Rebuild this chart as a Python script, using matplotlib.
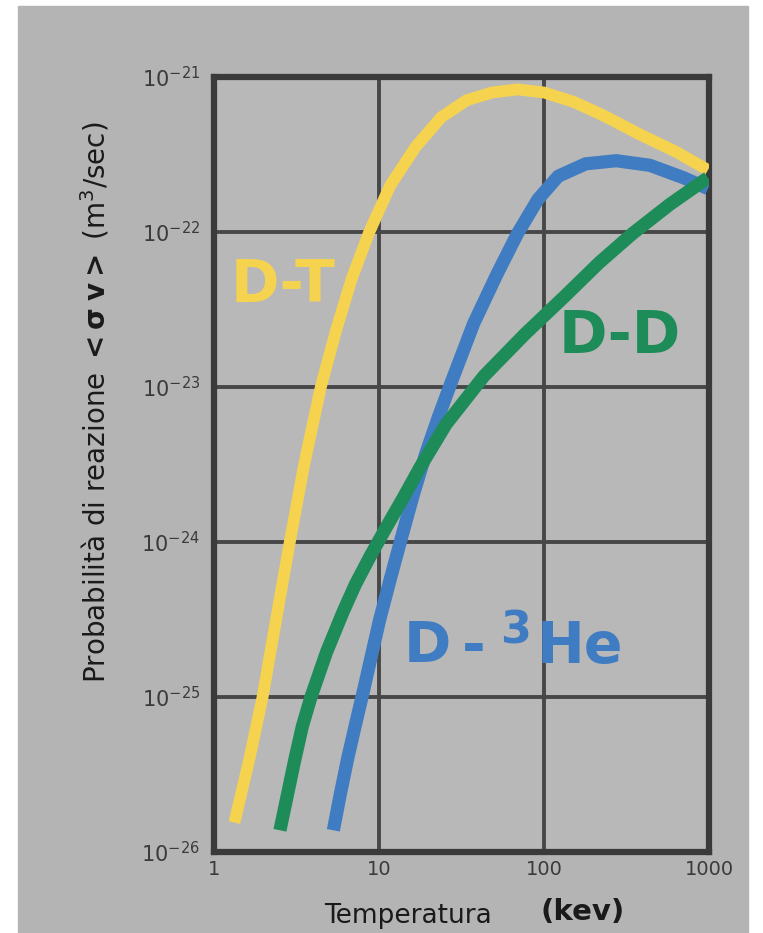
import numpy as np
import matplotlib.pyplot as plt
from matplotlib.patches import Rectangle

##### data (T in keV, log10 <sigma v> in m^3/s)
T_dt = [1.33, 1.63, 1.97, 2.38, 2.88, 3.52, 4.44, 5.51, 6.84, 8.73, 11.7,
        16.7, 23.8, 34.0, 48.4, 69.2, 100, 151, 231, 380, 625, 985]
sv_dt = [-25.81, -25.41, -25.00, -24.50, -24.00, -23.50, -23.00, -22.63,
         -22.30, -22.00, -21.70, -21.45, -21.26, -21.15, -21.10, -21.08,
         -21.10, -21.16, -21.25, -21.37, -21.48, -21.60]

T_dd = [2.51, 2.80, 3.08, 3.43, 3.87, 4.81, 6.06, 7.22, 8.86, 11.0, 14.1,
        17.7, 25.5, 43.2, 76.4, 135, 215, 344, 582, 985]
sv_dd = [-25.86, -25.62, -25.41, -25.19, -25.00, -24.71, -24.45, -24.27,
         -24.09, -23.91, -23.71, -23.52, -23.24, -22.93, -22.66, -22.41,
         -22.20, -22.01, -21.82, -21.65]

T_dhe = [5.29, 5.82, 6.48, 7.23, 8.05, 8.97, 10.1, 11.7, 13.7, 16.2, 19.2,
         22.8, 27.4, 37.5, 52.0, 69.1, 91.8, 122, 179, 274, 439, 701, 986]
sv_dhe = [-25.86, -25.63, -25.39, -25.17, -24.96, -24.74, -24.50, -24.24,
          -23.97, -23.69, -23.43, -23.20, -22.97, -22.59, -22.27, -22.01,
          -21.79, -21.64, -21.56, -21.54, -21.57, -21.65, -21.72]

xticks = [1, 10, 100, 1000]
xticklabels = ['1', '10', '100', '1000']
yexp = [-26, -25, -24, -23, -22, -21]

W, H = 763, 933

##### plotting
fig = plt.figure(figsize=[W/100, H/100], dpi=100)
fig.patch.set_facecolor('white')
fig.patches.append(Rectangle((18/W, 0), (748-18)/W, 1-6/H,
                             transform=fig.transFigure, color='#b4b4b4',
                             zorder=-10))

ax = fig.add_axes([214/W, 1-852/H, (709-214)/W, (852-77)/H])
ax.set_facecolor('#b8b8b8')

ax.plot(T_dt, 10.0**np.array(sv_dt), color='#f6d34f', lw=8.5,
        solid_capstyle='butt', solid_joinstyle='round', zorder=3)
ax.plot(T_dd, 10.0**np.array(sv_dd), color='#1e8c58', lw=9.5,
        solid_capstyle='butt', solid_joinstyle='round', zorder=4)
ax.plot(T_dhe, 10.0**np.array(sv_dhe), color='#3f7cc2', lw=9.5,
        solid_capstyle='butt', solid_joinstyle='round', zorder=3.5)

ax.set_xscale('log')
ax.set_yscale('log')
ax.set_xlim(1, 1000)
ax.set_ylim(1e-26, 1e-21)

ax.set_xticks(xticks)
ax.set_xticklabels(xticklabels)
ax.set_yticks([10.0**e for e in yexp])
ax.set_yticklabels([r'$\mathregular{10^{%d}}$' % e for e in yexp])
ax.minorticks_off()
ax.tick_params(length=0, labelcolor='#3a3a3a')
ax.tick_params(axis='x', labelsize=14, pad=6)
ax.tick_params(axis='y', labelsize=15, pad=10)
ax.grid(True, color='#474747', lw=2.8, zorder=1)
ax.set_axisbelow(True)
for s in ax.spines.values():
    s.set_color('#3a3a3a')
    s.set_linewidth(4.5)

# curve labels (pixel positions of the reference)
def ftext(px, py, s, **kw):
    fig.text(px/W, 1-py/H, s, va='baseline', ha='left',
             fontweight='bold', **kw)

ftext(231, 302, 'D-T', color='#f6d34f', fontsize=42)
ftext(559, 353, 'D-D', color='#1e8c58', fontsize=42)
ftext(404, 663, 'D', color='#3f7cc2', fontsize=41)
ftext(462, 663, '-', color='#3f7cc2', fontsize=41)
ftext(500, 643, '3', color='#3f7cc2', fontsize=32)
ftext(537, 663, 'He', color='#3f7cc2', fontsize=41)

# axis labels
fig.text(95/W, 1-402/H,
         r'Probabilità di reazione $\mathbf{<\sigma\;v>}$ (m$^3$/sec)',
         rotation=90, ha='center', va='center', fontsize=20, color='#1a1a1a')
fig.text(408/W, 1-916/H, 'Temperatura', ha='center', va='center',
         fontsize=19, color='#1a1a1a')
fig.text(583/W, 1-912/H, '(kev)', ha='center', va='center',
         fontsize=21, fontweight='bold', color='#1a1a1a')

fig.savefig('out.png', dpi=100, facecolor=fig.get_facecolor())
